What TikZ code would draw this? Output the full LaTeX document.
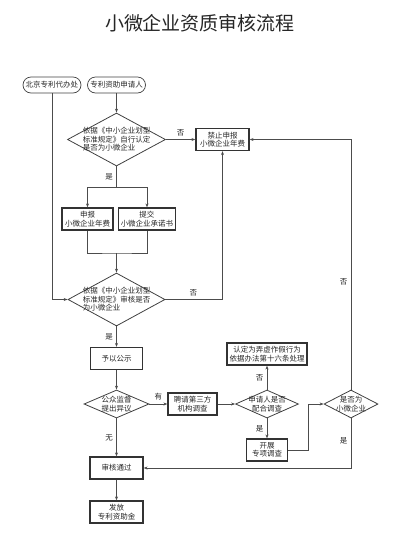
\documentclass[tikz,border=0pt]{standalone}
\usepackage{fontspec}
\setmainfont{Noto Sans CJK SC}
\usetikzlibrary{shapes.geometric, arrows.meta}

\begin{document}
\begin{tikzpicture}[x=1pt, y=-1pt,
	every node/.style={font=\fontsize{7.5}{8.5}\selectfont, text=black!85},
	startbox/.style={draw=black!75, line width=0.7pt, rounded corners=8pt, minimum width=58pt, minimum height=16pt, inner sep=1pt},
	stepbox/.style={draw=black!80, line width=1.2pt, minimum height=22pt, inner xsep=2pt, inner ysep=1pt, align=center},
	check/.style={draw=black!75, line width=0.8pt, diamond, aspect=1.85, inner sep=-4pt},
	flow/.style={draw=black!70, line width=0.7pt},
	arrow/.style={flow, -{Stealth[length=4pt, width=3pt]}},
	answer/.style={font=\fontsize{7.5}{8}\selectfont}]
			\useasboundingbox (0,0) rectangle (401,542);
			
			\node[font=\fontsize{19}{20}\selectfont] (title) at (200,23) {小微企业资质审核流程};
			
			\node[startbox] (agency) at (52,85) {北京专利代办处};
			\node[startbox] (applicant) at (116.5,85) {专利资助申请人};
			
			\node[check, minimum width=98pt, minimum height=53pt, align=left] (selfcheck) at (116.5,139.5) {依据《中小企业划型\\标准规定》自行认定\\是否为小微企业};
			\node[stepbox, minimum width=53pt] (ban) at (222.5,139.5) {禁止申报\\小微企业年费};
			
			\node[stepbox, minimum width=51pt] (apply) at (87.5,219) {申报\\小微企业年费};
			\node[stepbox, minimum width=56pt] (promise) at (147,219) {提交\\小微企业承诺书};
			
			\node[check, minimum width=97pt, minimum height=53pt, align=left] (review) at (116.5,299.5) {依据《中小企业划型\\标准规定》审核是否\\为小微企业};
			
			\node[stepbox, minimum width=52pt] (publish) at (116.5,358.5) {予以公示};
			\node[stepbox, minimum width=80pt] (fraud) at (267,354) {认定为弄虚作假行为\\依据办法第十六条处理};
			
			\node[check, minimum width=65pt, minimum height=28pt, align=center] (objection) at (116.5,404) {公众监督\\提出异议};
			\node[stepbox, minimum width=49pt] (thirdparty) at (192.5,404) {聘请第三方\\机构调查};
			\node[check, minimum width=63pt, minimum height=28pt, align=center] (cooperate) at (267,404) {申请人是否\\配合调查};
			\node[check, minimum width=54pt, minimum height=28pt, align=center] (recheck) at (351,404) {是否为\\小微企业};
			\node[stepbox, minimum width=41pt] (survey) at (267,450) {开展\\专项调查};
			
			\node[stepbox, minimum width=53pt] (pass) at (116.5,468) {审核通过};
			\node[stepbox, minimum width=53pt] (fund) at (116.5,512) {发放\\专利资助金};
			
			\coordinate (split) at (116.5,187);
			\coordinate (merge) at (116.5,253);
			
			\draw[arrow] (applicant) -- (selfcheck);
			\draw[arrow] (agency.south) |- (review.west);
			\draw[arrow] (selfcheck) -- node[above, answer] {否} (ban);
			\draw[flow] (selfcheck.south) -- node[left, answer] {是} (split);
			\draw[arrow] (split) -| (apply.north);
			\draw[arrow] (split) -| (promise.north);
			\draw[flow] (apply.south) |- (merge) -| (promise.south);
			\draw[arrow] (merge) -- (review.north);
			\draw[arrow] (review.east) -| node[pos=0.245, above, answer] {否} (ban.south);
			\draw[arrow] (review) -- node[left, answer] {是} (publish);
			\draw[arrow] (publish) -- (objection);
			\draw[arrow] (objection) -- node[above, answer] {有} (thirdparty);
			\draw[arrow] (thirdparty) -- (cooperate);
			\draw[arrow] (cooperate) -- node[left, answer] {否} (fraud);
			\draw[arrow] (cooperate) -- node[left, answer] {是} (survey);
			\draw[arrow] (survey.east) -- ++(20.5,0) |- (recheck.west);
			\draw[arrow] (recheck.north) |- node[pos=0.215, left, answer] {否} (ban.east);
			\draw[arrow] (recheck.south) |- node[pos=0.23, left, answer] {是} (pass.east);
			\draw[arrow] (objection) -- node[left, answer] {无} (pass);
			\draw[arrow] (pass) -- (fund);
			
		\end{tikzpicture}
\end{document}
